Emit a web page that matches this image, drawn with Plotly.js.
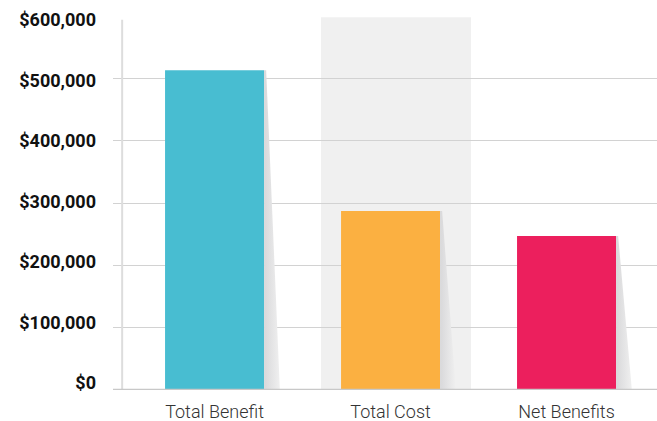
<!DOCTYPE html>
<html>
<head>
<meta charset="utf-8">
<script src="https://cdn.plot.ly/plotly-3.0.1.min.js"></script>
<style>html,body{margin:0;padding:0;background:#fff;}#chart{width:657px;height:421px;}</style>
</head>
<body>
<div id="chart"></div>
<script>
const categories = ["Total Benefit", "Total Cost", "Net Benefits"];
const values = [513000, 287000, 247000];
const barColors = ["#48BDD1", "#FBB041", "#EC1F5D"];
const tickValues = [0, 100000, 200000, 300000, 400000, 500000, 600000];
const tickLabels = ["$0", "$100,000", "$200,000", "$300,000", "$400,000", "$500,000", "$600,000"];

const barWidth = 0.5625;
const shadowTop = 0.012;
const shadowBottom = 0.09;

const traces = [];
categories.forEach((c, i) => {
  const xr = i + barWidth / 2;
  traces.push({
    type: "scatter", mode: "lines",
    x: [xr, xr + shadowTop, xr + shadowBottom, xr, xr],
    y: [values[i], values[i], 0, 0, values[i]],
    fill: "toself",
    fillcolor: "#e4e4e6",
    fillgradient: {type: "horizontal", colorscale: [[0, "#d8d8da"], [1, "#f0f0f0"]]},
    line: {width: 0},
    hoverinfo: "skip", showlegend: false
  });
});
traces.push({
  type: "bar",
  x: [0, 1, 2],
  y: values,
  width: barWidth,
  marker: {color: barColors, line: {width: 0}},
  showlegend: false
});
// invisible trace carrying the label axis
traces.push({
  type: "scatter", mode: "markers", x: [0], y: [0], yaxis: "y2",
  marker: {opacity: 0}, hoverinfo: "skip", showlegend: false
});

const layout = {
  width: 657, height: 421,
  margin: {l: 113, r: 0, t: 16, b: 31},
  paper_bgcolor: "#ffffff",
  plot_bgcolor: "rgba(0,0,0,0)",
  showlegend: false,
  xaxis: {
    range: [-0.577, 2.514],
    tickvals: [0, 1, 2],
    ticktext: categories,
    showgrid: false, zeroline: false,
    showline: false, ticks: "",
    ticklabelstandoff: 9,
    tickfont: {family: "Roboto", size: 18, color: "#333333", weight: 300},
    fixedrange: true
  },
  yaxis: {
    range: [0, 600000],
    tickvals: tickValues,
    showticklabels: false,
    showgrid: true, gridcolor: "#d2d2d2", gridwidth: 1,
    zeroline: false, showline: false, ticks: "",
    fixedrange: true
  },
  yaxis2: {
    overlaying: "y", side: "left",
    range: [-11570, 606612],
    tickvals: tickValues,
    ticktext: tickLabels,
    showgrid: false, zeroline: false, showline: false, ticks: "",
    ticklabelstandoff: 16,
    tickfont: {family: "Roboto", size: 18, color: "#111111", weight: 700},
    fixedrange: true
  },
  shapes: [
    {type: "rect", xref: "x", yref: "y", x0: 0.605, x1: 1.457, y0: 0, y1: 598000,
     fillcolor: "#f0f0f0", line: {width: 0}, layer: "below"},
    {type: "line", xref: "x", yref: "y", x0: -0.525, x1: -0.525, y0: 0, y1: 594000,
     line: {color: "#dddddd", width: 2}, layer: "above"},
    {type: "line", xref: "paper", yref: "y", x0: 0, x1: 1, y0: 0, y1: 0,
     line: {color: "#c8c8c8", width: 2.5}, layer: "above"}
  ]
};

Plotly.newPlot("chart", traces, layout, {displayModeBar: false, staticPlot: true});
</script>
</body>
</html>
